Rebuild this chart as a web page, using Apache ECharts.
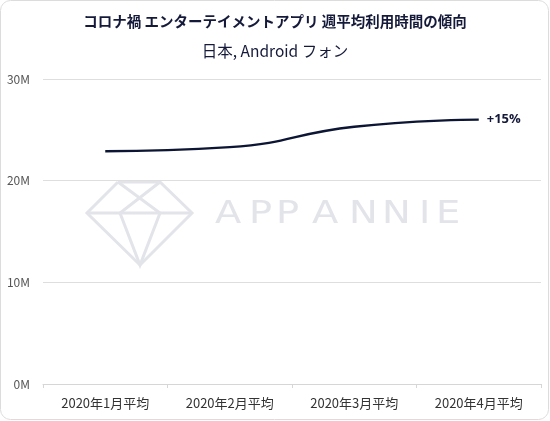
<!DOCTYPE html>
<html><head><meta charset="utf-8">
<script src="https://cdn.jsdelivr.net/npm/echarts@6/dist/echarts.min.js"></script>
<style>html,body{margin:0;padding:0;background:#fff}#c{width:550px;height:421px}</style>
</head><body><div id="c"></div>
<script>
var titleText = 'コロナ禍 エンターテイメントアプリ 週平均利用時間の傾向';
var subtitleText = '日本, Android フォン';
var categories = ['2020年1月平均', '2020年2月平均', '2020年3月平均', '2020年4月平均'];
var values = [22.9, 23.3, 25.3, 26.0];
var yTicks = [0, 10, 20, 30];
var endLabelText = '+15%';
var watermarkText = 'APP ANNIE';

var chart = echarts.init(document.getElementById('c'));
var font = '"Noto Sans CJK JP", "Noto Sans", sans-serif';
var wm = '#e3e4e9';
var letterLefts = [215, 249, 276, 0, 312, 349, 382, 419, 436];
var graphics = [
  { type: 'rect', shape: { x: 0.5, y: 0.5, width: 548, height: 419, r: 10 }, style: { fill: null, stroke: '#dcdcdc', lineWidth: 1 }, z: -10 },
  { type: 'polyline', shape: { points: [[118,182],[160,182],[192,213],[140,265],[87,213],[118,182]] }, style: { fill: null, stroke: wm, lineWidth: 3 }, z: -5 },
  { type: 'polyline', shape: { points: [[87,213],[192,213]] }, style: { fill: null, stroke: wm, lineWidth: 3 }, z: -5 },
  { type: 'polyline', shape: { points: [[118,182],[160,213],[140,265],[120,213],[160,182]] }, style: { fill: null, stroke: wm, lineWidth: 3 }, z: -5 }
];
watermarkText.split('').forEach(function (ch, i) {
  if (ch === ' ') return;
  graphics.push({ type: 'text', x: letterLefts[i], y: 199, scaleX: 1.2, style: { text: ch, fill: wm, font: 'normal 32px "DejaVu Sans", sans-serif' }, z: -5 });
});
chart.setOption({
  animation: false,
  textStyle: { fontFamily: font },
  title: [
    { text: titleText, left: 'center', top: 9, textStyle: { fontSize: 14.5, fontWeight: 'bold', color: '#151a3a', fontFamily: font } },
    { text: subtitleText, left: 'center', top: 38, textStyle: { fontSize: 15.5, fontWeight: 'normal', color: '#151a3a', fontFamily: font } }
  ],
  graphic: graphics,
  grid: { left: 43, right: 9, top: 79, bottom: 37 },
  xAxis: {
    type: 'category', data: categories, boundaryGap: true,
    axisLine: { lineStyle: { color: '#d6d6d6' } },
    axisTick: { show: true, length: 4, lineStyle: { color: '#d6d6d6' } },
    axisLabel: { color: '#333', fontSize: 13, margin: 13 }
  },
  yAxis: {
    type: 'value', min: yTicks[0], max: yTicks[yTicks.length - 1], interval: 10,
    axisLine: { show: false }, axisTick: { show: false },
    splitLine: { lineStyle: { color: '#dedede' } },
    axisLabel: { color: '#555', fontSize: 12, margin: 13, formatter: function (v) { return v + 'M'; } }
  },
  series: [{
    type: 'line', data: values, smooth: 0.5, symbol: 'none',
    lineStyle: { color: '#0c1533', width: 2.4 },
    endLabel: { show: true, formatter: endLabelText, color: '#151a3a', fontWeight: 'bold', fontSize: 13, distance: 8, fontFamily: '"Open Sans", sans-serif' }
  }]
});
</script></body></html>
